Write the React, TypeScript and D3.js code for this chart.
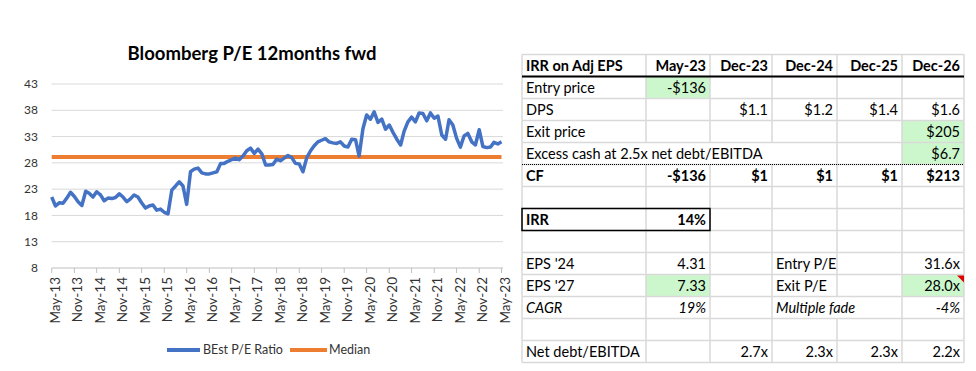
import React from "react";
import * as d3 from "d3";

// ---------- Chart data ----------
const startMonth = new Date(2013, 4, 1); // May-13
const peValues: number[] = [
  21.5, 19.8, 20.4, 20.3, 21.3, 22.4, 21.6, 20.6, 19.9, 22.6,
  22.2, 21.5, 22.5, 21.9, 20.8, 21.3, 21.2, 21.4, 22.1, 21.5,
  20.6, 21.2, 21.9, 21.5, 20.4, 19.4, 19.8, 20.0, 19.0, 19.2,
  18.6, 18.3, 22.8, 23.6, 24.4, 23.6, 20.1, 26.3, 26.8, 27.0,
  26.1, 25.9, 25.9, 26.1, 26.3, 27.9, 27.9, 28.3, 28.6, 28.9,
  28.6, 29.3, 30.3, 30.8, 29.8, 30.6, 29.7, 27.6, 27.6, 27.7,
  28.7, 28.4, 28.9, 29.4, 29.0, 27.9, 27.8, 26.3, 29.0, 30.3,
  31.2, 32.0, 32.3, 32.6, 32.0, 31.8, 31.7, 32.0, 31.2, 31.0,
  32.5, 32.4, 29.3, 34.5, 37.1, 36.3, 37.7, 35.7, 36.3, 34.4,
  35.2, 33.8, 32.5, 31.4, 34.0, 35.8, 36.7, 35.8, 37.5, 37.4,
  36.0, 37.5, 36.5, 36.9, 33.3, 32.5, 36.2, 35.2, 32.7, 31.0,
  33.1, 33.6, 32.0, 31.4, 34.3, 31.1, 30.9, 31.0, 31.9, 31.6,
  32.0,
];
const medianValue = 29.1;
const yTicks = [8, 13, 18, 23, 28, 33, 38, 43];
const xTickLabels = [
  "May-13", "Nov-13", "May-14", "Nov-14", "May-15", "Nov-15", "May-16",
  "Nov-16", "May-17", "Nov-17", "May-18", "Nov-18", "May-19", "Nov-19",
  "May-20", "Nov-20", "May-21", "Nov-21", "May-22", "Nov-22", "May-23",
];
const chartTitle = "Bloomberg P/E 12months fwd";
const seriesNames = ["BEst P/E Ratio", "Median"];

// ---------- Table data ----------
const tableHeader = ["IRR on Adj EPS", "May-23", "Dec-23", "Dec-24", "Dec-25", "Dec-26"];
const rowLabels = [
  "Entry price", "DPS", "Exit price", "Excess cash at 2.5x net debt/EBITDA", "CF", "",
  "IRR", "", "EPS '24", "EPS '27", "CAGR", "", "Net debt/EBITDA",
];
const rowValues: string[][] = [
  ["-$136", "", "", "", ""],
  ["", "$1.1", "$1.2", "$1.4", "$1.6"],
  ["", "", "", "", "$205"],
  ["", "", "", "", "$6.7"],
  ["-$136", "$1", "$1", "$1", "$213"],
  ["", "", "", "", ""],
  ["14%", "", "", "", ""],
  ["", "", "", "", ""],
  ["4.31", "", "Entry P/E", "", "31.6x"],
  ["7.33", "", "Exit P/E", "", "28.0x"],
  ["19%", "", "Multiple fade", "", "-4%"],
  ["", "", "", "", ""],
  ["", "2.7x", "2.3x", "2.3x", "2.2x"],
];
// styling config
const boldRows = [4, 6];
const italicRows = [10];
const leftAlignedCells = ["8-3", "9-3", "10-3"]; // row-col (col 0 = label)
const greenCells = ["0-1", "2-5", "3-5", "9-1", "9-5"];
const boxedRow = 6;
const flaggedCell = [9, 5];
const dottedBelowRow = 3;
// hidden vertical edges per row (text overflow), edge indices
const hiddenEdges: Record<number, number[]> = { 3: [1, 2, 3], 10: [4] };

const BLUE = "#4472C4";
const ORANGE = "#ED7D31";
const GREEN = "#CCF7CC";
const GRID = "#D9D9D9";
const FONT = "Lato, 'Open Sans', sans-serif";

export default function App() {
  const W = 976, H = 371;
  const dates = peValues.map((_, i) => d3.timeMonth.offset(startMonth, i));
  const x = d3.scaleTime().domain([dates[0], dates[dates.length - 1]]).range([51.7, 501.5]);
  const y = d3.scaleLinear().domain([8, 43]).range([268, 84]);
  const line = d3.line<number>().x((_, i) => x(dates[i])).y((d) => y(d));
  const medLine = d3.line<Date>().x((d) => x(d)).y(() => y(medianValue));

  // table geometry
  const colEdges = [522, 646, 710, 772, 837, 902, 964];
  const rowTop0 = 54.5;
  const rowH = 22;
  const nRows = rowLabels.length + 1;
  const rowY = (r: number) => rowTop0 + r * rowH;
  const FS = 14.5;

  const cells: React.ReactNode[] = [];
  // green fills
  greenCells.forEach((key) => {
    const [r, c] = key.split("-").map(Number);
    cells.push(
      <rect key={"g" + key} x={colEdges[c]} y={rowY(r + 1)} width={colEdges[c + 1] - colEdges[c]} height={rowH} fill={GREEN} />
    );
  });
  // grid horizontal
  for (let r = 0; r <= nRows; r++) {
    cells.push(<line key={"h" + r} x1={colEdges[0]} x2={colEdges[6]} y1={rowY(r)} y2={rowY(r)} stroke={GRID} strokeWidth={1.5} />);
  }
  // grid vertical
  for (let r = 0; r < nRows; r++) {
    const hidden = r > 0 ? hiddenEdges[r - 1] || [] : [];
    colEdges.forEach((ex, ei) => {
      if (hidden.includes(ei)) return;
      cells.push(<line key={"v" + r + "-" + ei} x1={ex} x2={ex} y1={rowY(r)} y2={rowY(r + 1)} stroke={GRID} strokeWidth={1.5} />);
    });
  }
  // header text
  tableHeader.forEach((t, c) => {
    cells.push(
      <text key={"th" + c} x={c === 0 ? colEdges[0] + 4 : colEdges[c + 1] - 4} y={rowY(0) + 16} textAnchor={c === 0 ? "start" : "end"} fontWeight="bold" fontSize={FS}>{t}</text>
    );
  });
  // body text
  rowLabels.forEach((lab, r) => {
    const bold = boldRows.includes(r);
    const italic = italicRows.includes(r);
    const ty = rowY(r + 1) + 16;
    if (lab) {
      cells.push(
        <text key={"rl" + r} x={colEdges[0] + 4} y={ty} fontSize={FS} fontWeight={bold ? "bold" : "normal"} fontStyle={italic ? "italic" : "normal"}>{lab}</text>
      );
    }
    rowValues[r].forEach((v, ci) => {
      if (!v) return;
      const c = ci + 1;
      const left = leftAlignedCells.includes(r + "-" + c);
      cells.push(
        <text key={"rv" + r + "-" + c} x={left ? colEdges[c] + 4 : colEdges[c + 1] - 4} y={ty} textAnchor={left ? "start" : "end"} fontSize={FS} fontWeight={bold ? "bold" : "normal"} fontStyle={italic ? "italic" : "normal"}>{v}</text>
      );
    });
  });

  const flagTop = rowY(flaggedCell[0] + 1);
  const flagRight = colEdges[flaggedCell[1] + 1];

  return (
    <svg width={W} height={H} style={{ position: "absolute", left: 0, top: 0, background: "#fff" }} fontFamily={FONT}>
      <rect width={W} height={H} fill="#fff" />
      {/* chart */}
      <text x={252} y={60} textAnchor="middle" fontSize={18.5} fontWeight="bold" fill="#000">{chartTitle}</text>
      {yTicks.map((t) => (
        <g key={"yt" + t}>
          {t !== 8 && <line x1={51.7} x2={503} y1={y(t)} y2={y(t)} stroke={GRID} strokeWidth={1} />}
          <text x={38} y={y(t)} dy="0.35em" textAnchor="end" fontSize={12} fill="#333">{t}</text>
        </g>
      ))}
      <line x1={51.7} x2={503} y1={y(8)} y2={y(8)} stroke="#BFBFBF" strokeWidth={1} />
      {xTickLabels.map((lab, i) => {
        const xx = x(d3.timeMonth.offset(startMonth, i * 6));
        return (
          <g key={"xt" + i}>
            <line x1={xx} x2={xx} y1={268} y2={273} stroke="#BFBFBF" />
            <text transform={`translate(${xx + 3},277) rotate(-90)`} textAnchor="end" dominantBaseline="central" fontSize={13.5} fill="#333">{lab}</text>
          </g>
        );
      })}
      <path d={medLine([dates[0], dates[dates.length - 1]]) || ""} stroke={ORANGE} strokeWidth={4} fill="none" />
      <path d={line(peValues) || ""} stroke={BLUE} strokeWidth={3.5} fill="none" strokeLinejoin="round" />
      {/* legend */}
      <line x1={167} x2={200} y1={350} y2={350} stroke={BLUE} strokeWidth={4} />
      <text x={203} y={350} dy="0.35em" fontSize={12.5} fill="#333">{seriesNames[0]}</text>
      <line x1={290} x2={327} y1={350} y2={350} stroke={ORANGE} strokeWidth={4} />
      <text x={329} y={350} dy="0.35em" fontSize={12.5} fill="#333">{seriesNames[1]}</text>
      {/* table */}
      <g fill="#000">{cells}</g>
      <line x1={colEdges[0]} x2={colEdges[6]} y1={rowY(1)} y2={rowY(1)} stroke="#000" strokeWidth={2} />
      <line x1={colEdges[0]} x2={colEdges[6]} y1={rowY(dottedBelowRow + 2)} y2={rowY(dottedBelowRow + 2)} stroke="#000" strokeWidth={1} strokeDasharray="1,1" />
      <rect x={colEdges[0]} y={rowY(boxedRow + 1)} width={colEdges[2] - colEdges[0]} height={rowH} fill="none" stroke="#000" strokeWidth={1.5} />
      <polygon points={`${flagRight - 7},${flagTop + 1} ${flagRight},${flagTop + 1} ${flagRight},${flagTop + 8}`} fill="#E00000" />
    </svg>
  );
}
